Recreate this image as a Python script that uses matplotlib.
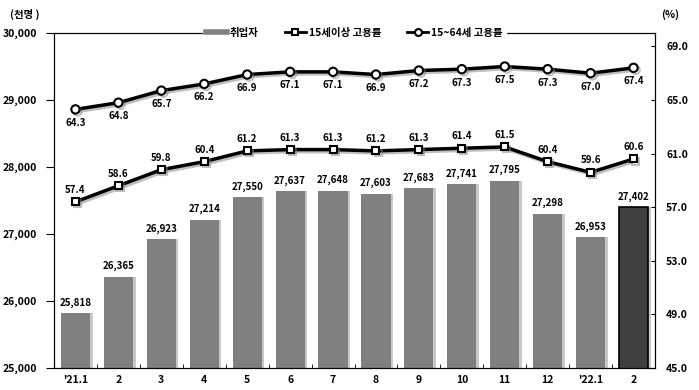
"""
취업자 / 고용률 이중축 그래프
"""
import matplotlib
matplotlib.use("Agg")
import matplotlib.pyplot as plt
import matplotlib.patheffects as pe
from matplotlib.lines import Line2D
from matplotlib.ticker import FuncFormatter, FixedLocator
import numpy as np

plt.rcParams['font.family'] = ['Noto Sans CJK KR', 'DejaVu Sans']
plt.rcParams['font.weight'] = 'bold'

list_month = ["'21.1", "2", "3", "4", "5", "6", "7", "8", "9", "10", "11", "12", "'22.1", "2"]

list_employed = [25818, 26365, 26923, 27214, 27550, 27637, 27648,
                 27603, 27683, 27741, 27795, 27298, 26953, 27402]

list_rate_15 = [57.4, 58.6, 59.8, 60.4, 61.2, 61.3, 61.3,
                61.2, 61.3, 61.4, 61.5, 60.4, 59.6, 60.6]

list_rate_1564 = [64.3, 64.8, 65.7, 66.2, 66.9, 67.1, 67.1,
                  66.9, 67.2, 67.3, 67.5, 67.3, 67.0, 67.4]

x = np.arange(len(list_month))
bar_colors = ['#808080'] * (len(x) - 1) + ['#404040']
edge_colors = ['none'] * (len(x) - 1) + ['black']

fig = plt.figure(figsize=(6.99, 3.9), dpi=100)
ax1 = fig.add_axes([54 / 699, 22 / 390, 601 / 699, 335 / 390])

# 막대 그림자
ax1.bar(x + 0.06, list_employed, width=0.68, color='#c8c8c8', zorder=1)
ax1.bar(x, list_employed, width=0.68, color=bar_colors,
        edgecolor=edge_colors, linewidth=1.2, zorder=2)
for xi, v in zip(x, list_employed):
    ax1.annotate(f"{v:,}", (xi, v), xytext=(0, 4), textcoords="offset points",
                 ha="center", va="bottom", fontsize=7, fontweight="bold")

ax1.set_xlim(-0.5, len(x) - 0.5)
ax1.set_ylim(25000, 30000)
ax1.set_yticks([25000, 26000, 27000, 28000, 29000, 30000])
ax1.yaxis.set_major_formatter(FuncFormatter(lambda v, p: f"{int(v):,}"))
ax1.tick_params(axis='y', direction='out', length=6, labelsize=7.5, pad=6)
ax1.set_xticks(x)
ax1.set_xticklabels(list_month, fontsize=7.5, fontweight="bold")
ax1.tick_params(axis='x', length=0, pad=5)
ax1.xaxis.set_minor_locator(FixedLocator(np.arange(0.5, len(x) - 1, 1.0)))
ax1.tick_params(axis='x', which='minor', direction='in', length=3)
ax1.text(-0.073, 1.04, "(천명 )", transform=ax1.transAxes, fontsize=7.5,
         fontweight="bold", ha="left", va="bottom")

ax2 = ax1.twinx()
shadow = [pe.SimpleLineShadow(offset=(1.5, -1.5), shadow_color='gray', alpha=0.5), pe.Normal()]
ax2.plot(x, list_rate_15, color='black', linewidth=2.5, marker='s', markersize=5,
         markerfacecolor='white', markeredgecolor='black', markeredgewidth=1.5,
         path_effects=shadow, zorder=3)
ax2.plot(x, list_rate_1564, color='black', linewidth=2.5, marker='o', markersize=6,
         markerfacecolor='white', markeredgecolor='black', markeredgewidth=1.5,
         path_effects=shadow, zorder=3)
for xi, v in zip(x, list_rate_15):
    ax2.annotate(f"{v:.1f}", (xi, v), xytext=(0, 5), textcoords="offset points",
                 ha="center", va="bottom", fontsize=7, fontweight="bold")
for xi, v in zip(x, list_rate_1564):
    ax2.annotate(f"{v:.1f}", (xi, v), xytext=(0, -6), textcoords="offset points",
                 ha="center", va="top", fontsize=7, fontweight="bold")

ax2.set_ylim(45, 70)
ax2.set_yticks([45, 49, 53, 57, 61, 65, 69])
ax2.yaxis.set_major_formatter(FuncFormatter(lambda v, p: f"{v:.1f}"))
ax2.tick_params(axis='y', direction='in', length=3, labelsize=7.5, pad=8)
ax2.text(1.01, 1.04, "(%)", transform=ax2.transAxes, fontsize=7.5,
         fontweight="bold", ha="left", va="bottom")

handles = [
    Line2D([], [], color='#808080', linewidth=4),
    Line2D([], [], color='black', linewidth=2, marker='s', markersize=5,
           markerfacecolor='white', markeredgewidth=1.5),
    Line2D([], [], color='black', linewidth=2, marker='o', markersize=5,
           markerfacecolor='white', markeredgewidth=1.5),
]
labels = ["취업자", "15세이상 고용률", "15~64세 고용률"]
leg = ax2.legend(handles, labels, loc='center', bbox_to_anchor=(0.5, 1.0), ncol=3,
                 frameon=True, fontsize=7.5, handlelength=2.0, handletextpad=0.3,
                 columnspacing=2.5, borderpad=0.3)
leg.get_frame().set_facecolor('white')
leg.get_frame().set_edgecolor('white')
leg.get_frame().set_alpha(1)
leg.set_zorder(10)

plt.savefig("out.png", dpi=100)
